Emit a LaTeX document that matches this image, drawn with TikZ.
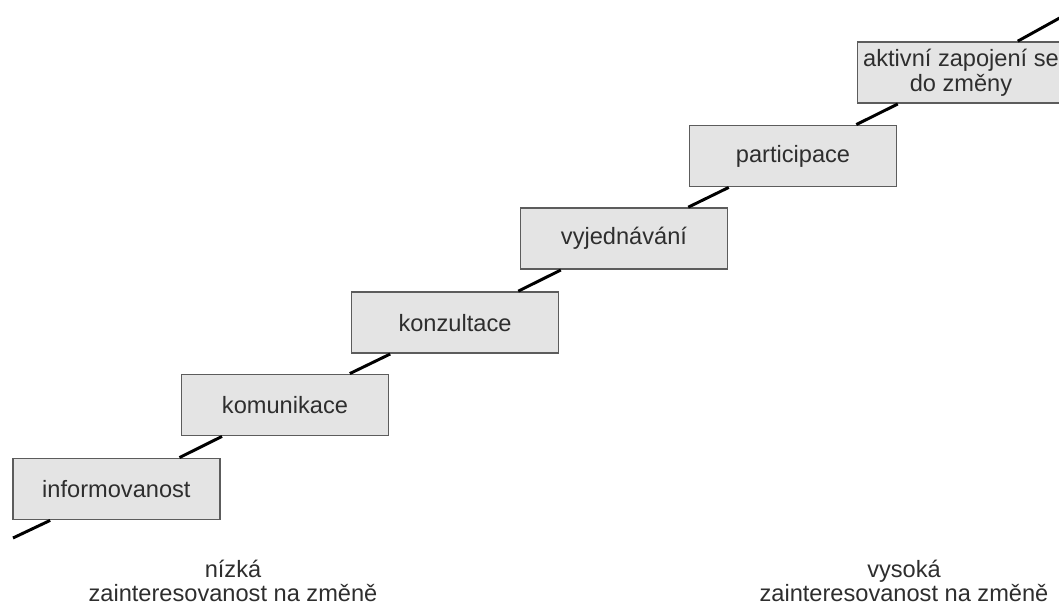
\documentclass[tikz,border=0pt]{standalone}
\usepackage{fontspec}
\setmainfont{Liberation Sans}
\definecolor{stagefill}{HTML}{E4E4E4}
\definecolor{stageborder}{HTML}{5C5C5C}
\definecolor{labeltext}{HTML}{2E2E2E}

\tikzstyle{stage box}=[draw=stageborder,fill=stagefill,line width=1.3pt,
    minimum width=5.175cm,minimum height=1.525cm,inner sep=0pt,
    text=labeltext,align=center,font=\fontsize{16.8}{17.5}\selectfont]
\tikzstyle{axis label}=[text=labeltext,align=center,inner sep=0pt,
    font=\fontsize{16.8}{17}\selectfont]
\tikzstyle{stair}=[line width=2.1pt,black]
\newcommand{\stage}[3]{
    \node[stage box] at (#1) (#2) {#3};
}

\begin{document}
\begin{tikzpicture}
    \clip (0,0) rectangle (26.475,15.125);
    %
    \stage{2.91,2.90}{informovanost}{informovanost}
    \stage{7.125,5.0}{komunikace}{komunikace}
    \stage{11.375,7.06}{konzultace}{konzultace}
    \stage{15.6,9.16}{vyjednavani}{vyjednávání}
    \stage{19.825,11.225}{participace}{participace}
    \stage{24.025,13.31}{zapojeni}{aktivní zapojení se\\do změny}
    %
    \coordinate (low) at (0.325,1.675);
    \coordinate (high) at (26.5,14.68);
    \draw[stair] (low) -- (informovanost);
    \draw[stair] (informovanost) -- (komunikace);
    \draw[stair] (komunikace) -- (konzultace);
    \draw[stair] (konzultace) -- (vyjednavani);
    \draw[stair] (vyjednavani) -- (participace);
    \draw[stair] (participace) -- (zapojeni);
    \draw[stair] (zapojeni) -- (high);
    %
    \node[axis label,anchor=north] (nizka) at (5.825,1.125)
        {nízká\\zainteresovanost na změně};
    \node[axis label,anchor=north] (vysoka) at (22.6,1.125)
        {vysoká\\zainteresovanost na změně};
\end{tikzpicture}
\end{document}
